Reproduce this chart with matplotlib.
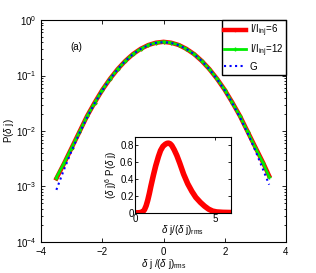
import matplotlib
matplotlib.use("Agg")
import matplotlib.pyplot as plt

plt.rcParams['font.family'] = ['Liberation Sans', 'DejaVu Sans']
plt.rcParams['mathtext.fontset'] = 'custom'
plt.rcParams['mathtext.rm'] = 'Liberation Sans'
plt.rcParams['mathtext.it'] = 'Liberation Sans:italic'

# main panel: P(dj) vs dj/(dj)_rms
x_main = [-3.5, -3.25, -3.0, -2.75, -2.5, -2.25, -2.0, -1.75, -1.5, -1.25, -1.0,
          -0.75, -0.5, -0.25, 0.0, 0.25, 0.5, 0.75, 1.0, 1.25, 1.5, 1.75, 2.0,
          2.25, 2.5, 2.75, 3.0, 3.25, 3.45]
p_i6 = [1.4e-3, 2.6e-3, 5.0e-3, 9.6e-3, 1.85e-2, 3.25e-2, 5.5e-2, 8.7e-2, 0.13, 0.183,
        0.243, 0.302, 0.354, 0.39, 0.405, 0.39, 0.354, 0.302, 0.243, 0.183, 0.13,
        8.7e-2, 5.5e-2, 3.25e-2, 1.85e-2, 9.7e-3, 5.1e-3, 2.7e-3, 1.55e-3]
p_i12 = [1.45e-3, 2.65e-3, 5.0e-3, 9.5e-3, 1.84e-2, 3.22e-2, 5.5e-2, 8.7e-2, 0.13, 0.183,
         0.243, 0.302, 0.354, 0.39, 0.405, 0.39, 0.354, 0.302, 0.243, 0.183, 0.13,
         8.7e-2, 5.5e-2, 3.22e-2, 1.84e-2, 9.6e-3, 5.0e-3, 2.65e-3, 1.5e-3]
p_gauss = [8.7e-4, 2.03e-3, 4.43e-3, 9.1e-3, 1.75e-2, 3.17e-2, 5.4e-2, 8.63e-2, 0.1295,
           0.1826, 0.242, 0.301, 0.352, 0.387, 0.399, 0.387, 0.352, 0.301, 0.242,
           0.1826, 0.1295, 8.63e-2, 5.4e-2, 3.17e-2, 1.75e-2, 9.1e-3, 4.43e-3,
           2.03e-3, 1.08e-3]

# inset: (dj)^6 P(dj)
x_ins = [0.0, 0.3, 0.5, 0.6, 0.7, 0.8, 0.9, 1.0, 1.15, 1.3, 1.47, 1.6, 1.75, 1.9,
         2.0, 2.1, 2.2, 2.3, 2.45, 2.62, 2.8, 3.04, 3.3, 3.56, 3.8, 4.09, 4.35,
         4.6, 4.85, 5.1, 5.5, 6.0]
m_ins = [0.0, 0.003, 0.015, 0.04, 0.085, 0.15, 0.23, 0.32, 0.445, 0.56, 0.67, 0.74,
         0.79, 0.815, 0.825, 0.828, 0.82, 0.8, 0.75, 0.68, 0.59, 0.46, 0.345, 0.255,
         0.185, 0.125, 0.08, 0.045, 0.022, 0.012, 0.007, 0.005]


def main():
    fig = plt.figure(figsize=(3.16, 2.73), dpi=100)
    ax = fig.add_axes([0.130, 0.1136, 0.775, 0.813])

    ax.semilogy(x_main, p_i6, color='red', lw=3.2, marker='.', ms=3,
                label=r'I/I$_{\rm inj}$=6')
    ax.semilogy(x_main, p_i12, color='#00ee00', lw=2, marker='+', ms=3,
                label=r'I/I$_{\rm inj}$=12')
    ax.semilogy(x_main, p_gauss, color='blue', lw=1.5, ls=':', label='G')

    ax.set_xlim(-4, 4)
    ax.set_ylim(1e-4, 1)
    ax.set_xticks([-4, -2, 0, 2, 4])
    ax.tick_params(which='both', direction='in', top=True, right=True,
                   labelsize=7, width=0.6)
    ax.tick_params(which='major', length=3)
    ax.tick_params(which='minor', length=1.5)
    ax.set_xlabel(r'$\delta$ j /($\delta$ j)$_{\rm rms}$', fontsize=7, labelpad=0)
    ax.set_ylabel(r'P($\delta$ j)', fontsize=7, labelpad=0)
    ax.text(-3.05, 0.29, '(a)', fontsize=7)

    leg = ax.legend(loc='upper right', fontsize=7, fancybox=False,
                    framealpha=1, edgecolor='black', borderaxespad=0,
                    handlelength=2.2, handletextpad=0.4, labelspacing=0.3,
                    borderpad=0.3)
    leg.get_frame().set_linewidth(1)

    ins = fig.add_axes([0.427, 0.22, 0.304, 0.278])
    ins.plot(x_ins, m_ins, color='red', lw=4)
    ins.set_xlim(0, 6)
    ins.set_ylim(0, 0.9)
    ins.set_xticks([0, 5])
    ins.set_yticks([0, 0.2, 0.4, 0.6, 0.8])
    ins.set_yticklabels(['0', '0.2', '0.4', '0.6', '0.8'])
    ins.tick_params(direction='in', top=True, right=True, labelsize=7,
                    length=2, width=0.6, pad=1)
    ins.set_xlabel(r'$\delta$ j/($\delta$ j)$_{\rm rms}$', fontsize=7, labelpad=-1)
    ins.set_ylabel(r'($\delta$ j)$^6$ P($\delta$ j)', fontsize=7, labelpad=1)

    plt.savefig("out.png", dpi=100)


if __name__ == "__main__":
    main()
